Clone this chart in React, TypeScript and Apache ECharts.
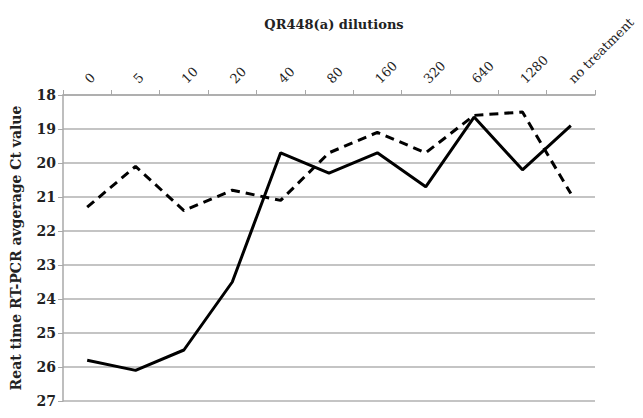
import React, { useEffect, useRef } from "react";
import * as echarts from "echarts";

const categories = ["0", "5", "10", "20", "40", "80", "160", "320", "640", "1280", "no treatment"];
const solidSeries = [25.8, 26.1, 25.5, 23.5, 19.7, 20.3, 19.7, 20.7, 18.65, 20.2, 18.9];
const dashedSeries = [21.3, 20.1, 21.4, 20.8, 21.1, 19.7, 19.1, 19.7, 18.6, 18.5, 20.9];
const yMin = 18;
const yMax = 27;
const titleText = "QR448(a) dilutions";
const yName = "Reat time RT-PCR avgerage Ct value";

const SERIF = "'DejaVu Serif', 'Liberation Serif', serif";

export default function App() {
  const ref = useRef<HTMLDivElement>(null);
  useEffect(() => {
    if (!ref.current) return;
    const chart = echarts.init(ref.current, undefined, { renderer: "svg" });
    chart.setOption({
      animation: false,
      backgroundColor: "#ffffff",
      title: {
        text: titleText,
        left: 329,
        textAlign: "center",
        top: 13,
        textStyle: { fontFamily: SERIF, fontWeight: "bold", fontSize: 13, color: "#222" },
      },
      grid: { left: 63, right: 48, top: 95, bottom: 17 },
      xAxis: {
        type: "category",
        position: "top",
        data: categories,
        boundaryGap: true,
        axisLine: { show: true, lineStyle: { color: "#a8a8a8", width: 1.5 } },
        axisTick: { show: true, length: 5, lineStyle: { color: "#a8a8a8" } },
        axisLabel: {
          rotate: -45,
          margin: 14,
          interval: 0,
          fontFamily: SERIF,
          fontSize: 13,
          color: "#222",
        },
        splitLine: { show: false },
      },
      yAxis: {
        type: "value",
        inverse: true,
        min: yMin,
        max: yMax,
        interval: 1,
        name: yName,
        nameLocation: "middle",
        nameGap: 40,
        nameTextStyle: { fontFamily: SERIF, fontWeight: "bold", fontSize: 14, color: "#222" },
        axisLine: { show: true, lineStyle: { color: "#a8a8a8", width: 1.5 } },
        axisTick: { show: true, length: 5, lineStyle: { color: "#a8a8a8" } },
        axisLabel: { fontFamily: SERIF, fontWeight: "bold", fontSize: 14, color: "#222", margin: 7 },
        splitLine: { show: true, lineStyle: { color: "#b0b0b0", width: 1.5 } },
      },
      series: [
        {
          type: "line",
          data: solidSeries,
          symbol: "none",
          lineStyle: { color: "#000", width: 3, type: "solid" },
        },
        {
          type: "line",
          data: dashedSeries,
          symbol: "none",
          lineStyle: { color: "#000", width: 3, type: [9, 6] },
        },
      ],
    });
    return () => chart.dispose();
  }, []);
  return <div ref={ref} style={{ width: 643, height: 418, position: "absolute", left: 0, top: 0 }} />;
}
